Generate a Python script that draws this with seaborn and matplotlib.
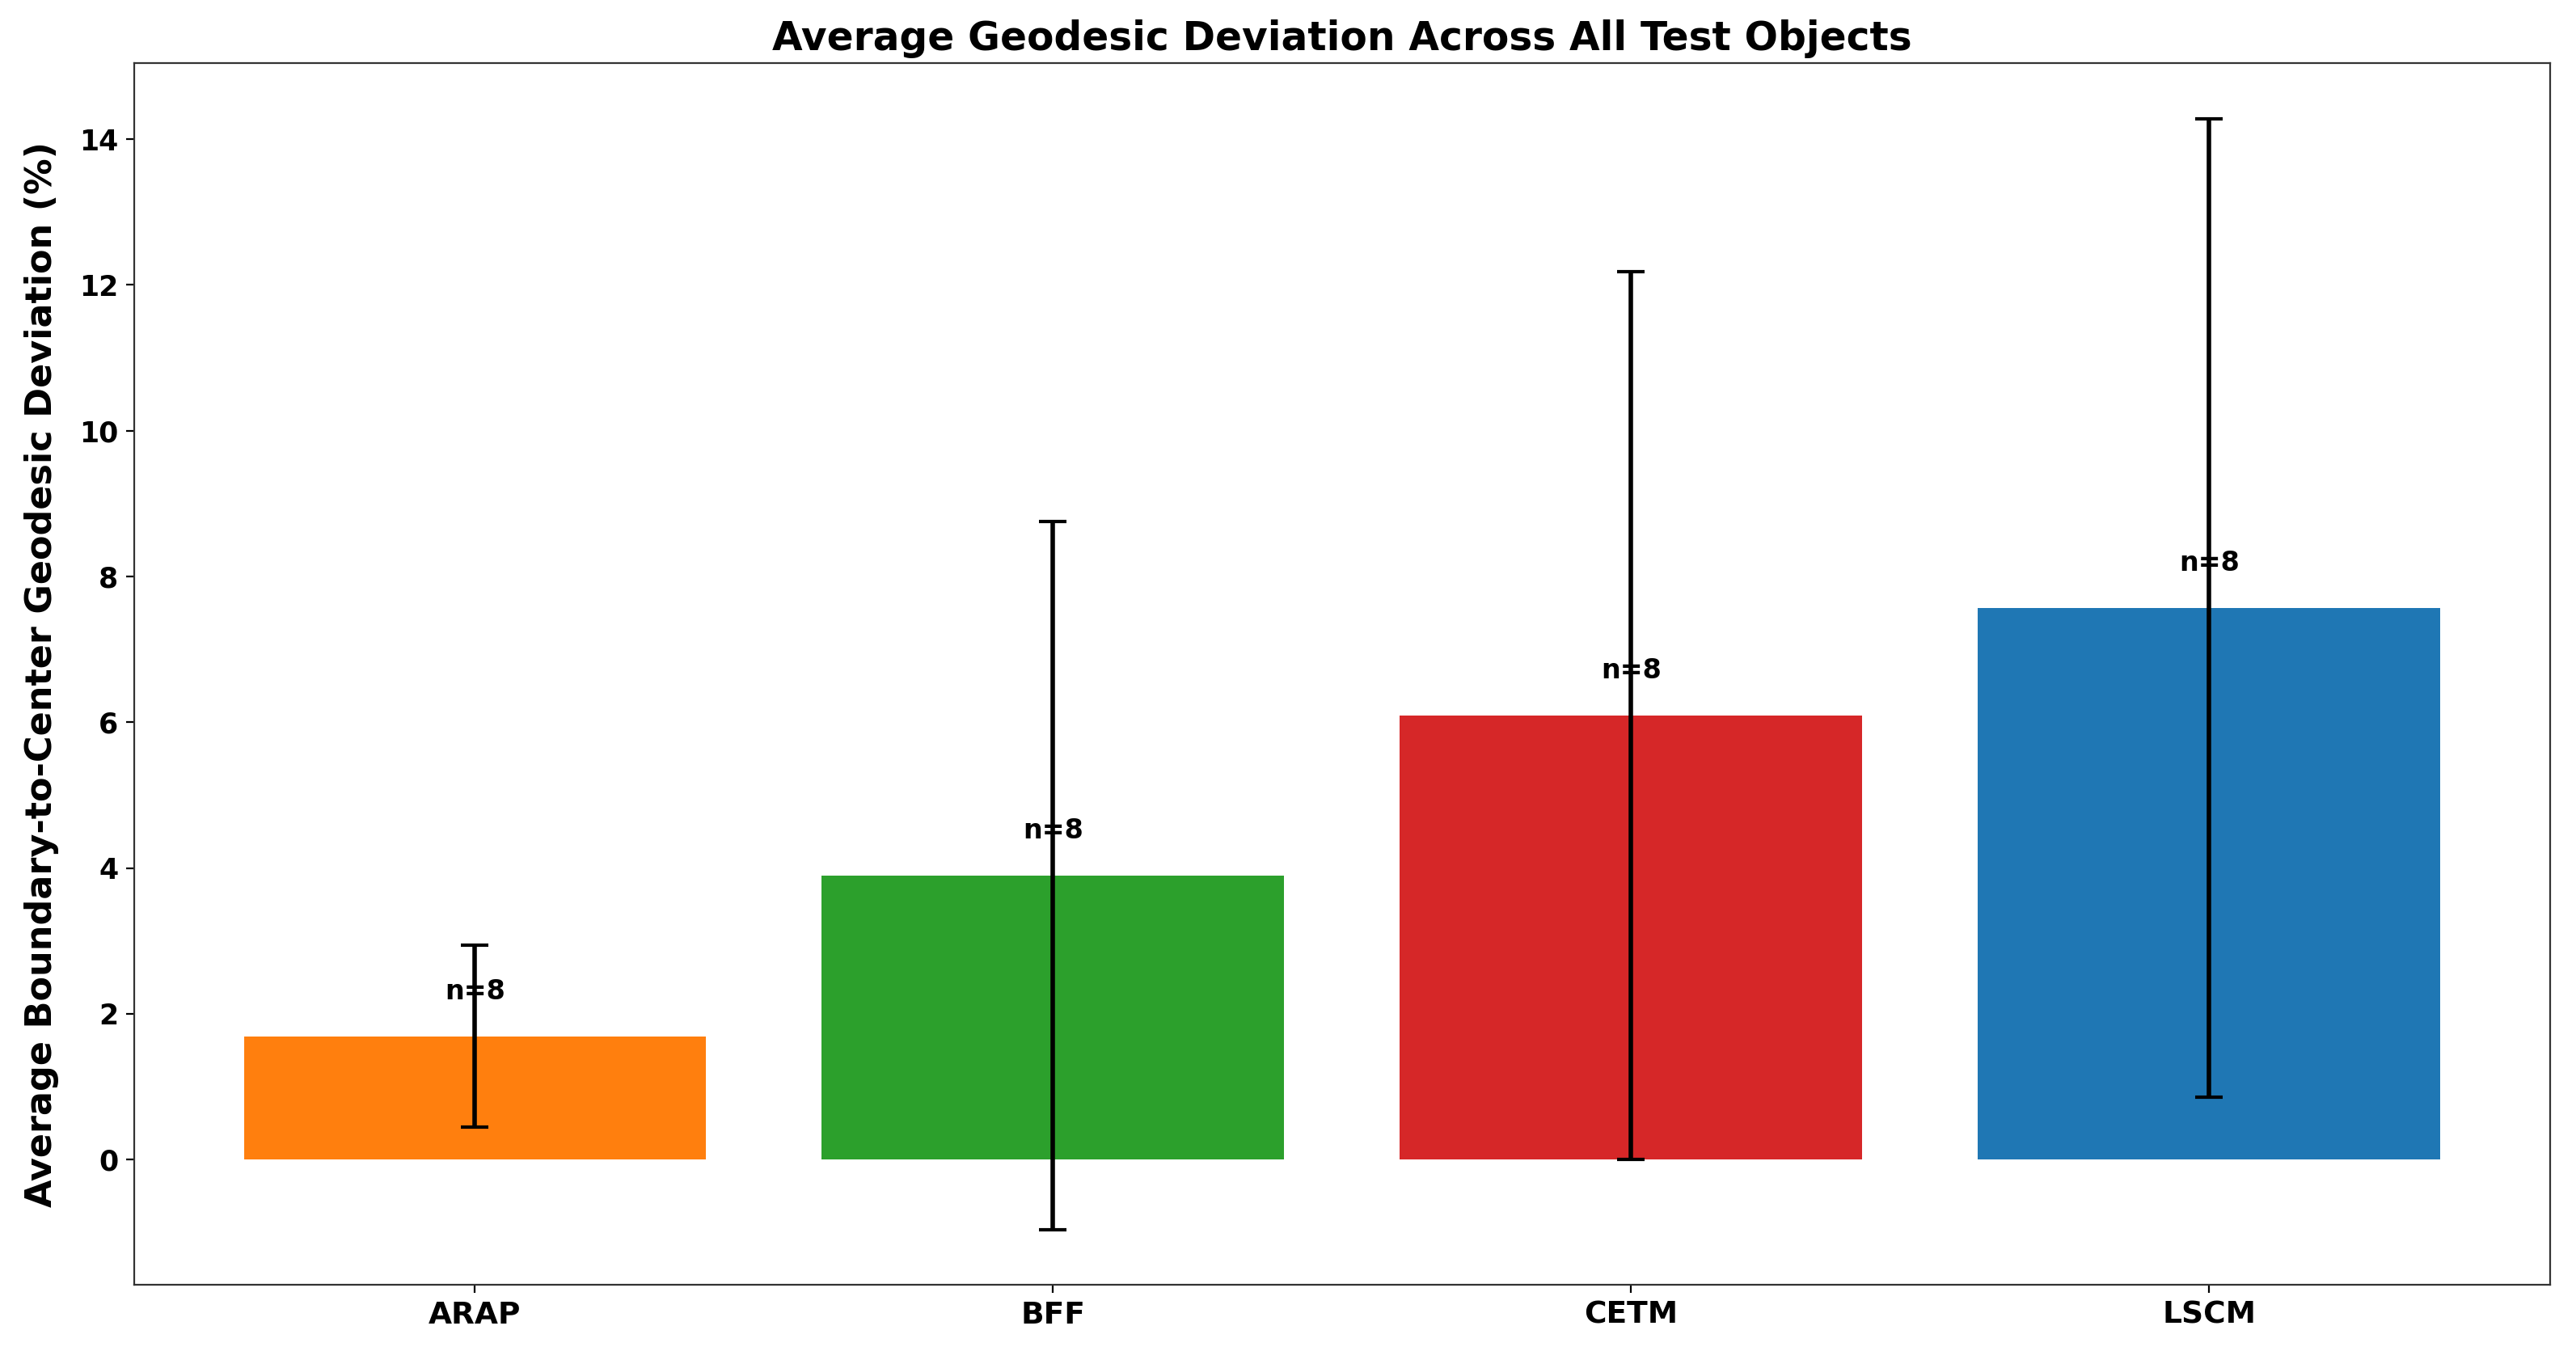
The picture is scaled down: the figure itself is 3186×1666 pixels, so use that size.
import numpy as np
import pandas as pd
import seaborn as sns
import matplotlib.pyplot as plt

# Values
methods = ['ARAP', 'BFF', 'CETM', 'LSCM']
mean_dev = [1.69, 3.90, 6.09, 7.57]
std_dev = [1.25, 4.86, 6.09, 6.71]
n_objects = [8, 8, 8, 8]
colors = ['#ff7f0e', '#2ca02c', '#d62728', '#1f77b4']

df = pd.DataFrame({'method': methods, 'mean': mean_dev, 'std': std_dev, 'n': n_objects})

plt.rcParams['font.family'] = ['DejaVu Sans']
plt.rcParams['font.weight'] = 'bold'

fig, ax = plt.subplots(figsize=(15.93, 8.33), dpi=200)
fig.subplots_adjust(left=0.052, right=0.99, top=0.953, bottom=0.046)

sns.barplot(data=df, x='method', y='mean', hue='method', palette=colors,
            width=0.8, saturation=1, legend=False, errorbar=None, ax=ax)

# Error bars (std) drawn on top of the bars
ax.errorbar(np.arange(len(methods)), df['mean'], yerr=df['std'], fmt='none',
            ecolor='black', elinewidth=2, capsize=6, capthick=1.5, zorder=3)

# Sample-size labels just above each bar
for i, row in df.iterrows():
    ax.text(i, row['mean'] + 0.43, f"n={row['n']}", ha='center', va='bottom',
            fontsize=12, fontweight='bold', zorder=4)

ax.set_title('Average Geodesic Deviation Across All Test Objects', fontsize=17.5, fontweight='bold')
ax.set_ylabel('Average Boundary-to-Center Geodesic Deviation (%)', fontsize=16,
              fontweight='bold', labelpad=9)
ax.set_xlabel('')
ax.tick_params(axis='x', labelsize=13.5)
ax.tick_params(axis='y', labelsize=12.5)
for lab in ax.get_xticklabels() + ax.get_yticklabels():
    lab.set_fontweight('bold')
ax.margins(y=0.05)
ax.set_xlim(-0.59, 3.59)
for s in ax.spines.values():
    s.set_color('#333333')

plt.savefig('out.png', dpi=200)
